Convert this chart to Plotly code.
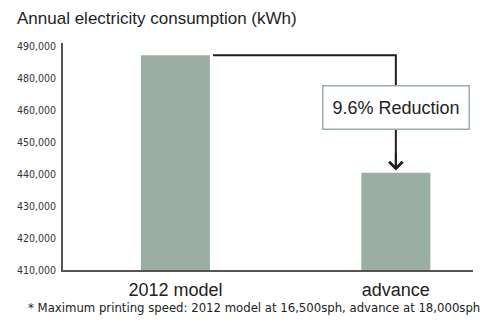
import numpy as np
import plotly.graph_objects as go

# Annual electricity consumption per press model (kWh)
categories = ["2012 model", "advance"]
consumption = [487200, 440400]

# Y-axis tick values as printed (the scale skips 470,000 between 460k and 480k)
tick_values = [410000, 420000, 430000, 440000, 450000, 460000, 480000, 490000]
tick_labels = [f"{v:,}" for v in tick_values]

title_text = "Annual electricity consumption (kWh)"
footnote_text = "* Maximum printing speed: 2012 model at 16,500sph, advance at 18,000sph"

# Map kWh values onto evenly spaced tick slots
tick_slots = np.arange(len(tick_values))
def to_slot(v):
    return float(np.interp(v, tick_values, tick_slots))

bar_pos = [to_slot(v) for v in consumption]
x_pos = list(range(len(categories)))
reduction = (1 - consumption[1] / consumption[0]) * 100

BAR_COLOR = "#9aaea4"
INK = "#231f20"
AXIS = "#5a5252"
NARROW = "DejaVu Sans Condensed, Liberation Sans, Arial, sans-serif"
SANS = "Liberation Sans, Arial, Helvetica, sans-serif"
bar_width = 0.313

fig = go.Figure(
    go.Bar(
        x=x_pos,
        y=bar_pos,
        width=bar_width,
        marker=dict(color=BAR_COLOR, line=dict(width=0)),
        customdata=consumption,
        hovertemplate="%{customdata:,} kWh<extra></extra>",
    )
)

# Bracket from the top of the first bar across and down toward the second bar
x_start = x_pos[0] + bar_width / 2 + 0.014
x_end = x_pos[1]
y_top = bar_pos[0]
y_tip = bar_pos[1] + 0.07
fig.add_shape(
    type="path",
    path=f"M {x_start},{y_top} L {x_end},{y_top} L {x_end},{y_tip + 0.05}",
    xref="x", yref="y",
    line=dict(color=INK, width=2),
)
fig.add_annotation(
    x=x_end, y=y_tip, ax=x_end, ay=y_tip + 0.6,
    xref="x", yref="y", axref="x", ayref="y",
    text="", showarrow=True,
    arrowhead=4, arrowsize=1.3, arrowwidth=2, arrowcolor=INK,
)
# Reduction label box
fig.add_annotation(
    x=x_end, y=5.08, xref="x", yref="y",
    text=f"{reduction:.1f}% Reduction",
    showarrow=False,
    font=dict(family=SANS, size=18, color="#222222"),
    bgcolor="white", bordercolor=BAR_COLOR, borderwidth=1.5, borderpad=2,
    width=141, height=38,
)
# Footnote
fig.add_annotation(
    x=(254 - 63) / 410, y=-37 / 227, xref="paper", yref="paper",
    text=footnote_text, showarrow=False,
    font=dict(family=NARROW, size=13, color="#222222"),
    xanchor="center", yanchor="middle",
)

fig.update_layout(
    width=487, height=326,
    margin=dict(l=63, r=14, t=43, b=56),
    paper_bgcolor="white", plot_bgcolor="white",
    showlegend=False,
    title=dict(
        text=title_text, x=17 / 487, xref="container", xanchor="left",
        y=1 - 18 / 326, yref="container", yanchor="middle",
        font=dict(family=SANS, size=17, color="#1e1e1e"),
    ),
    xaxis=dict(
        range=[-0.51, 1.35],
        tickvals=x_pos, ticktext=categories,
        showgrid=False, zeroline=False,
        showline=True, linecolor=AXIS, linewidth=1.5,
        ticks="", ticklabelstandoff=3,
        tickfont=dict(family=SANS, size=18, color="#222222"),
    ),
    yaxis=dict(
        range=[0, 7.1],
        tickvals=list(tick_slots), ticktext=tick_labels,
        showgrid=False, zeroline=False,
        showline=True, linecolor=AXIS, linewidth=1.5,
        ticks="", ticklabelstandoff=3,
        tickfont=dict(family=NARROW, size=10.5, color="#333333"),
    ),
)

fig.write_html("out.html")
